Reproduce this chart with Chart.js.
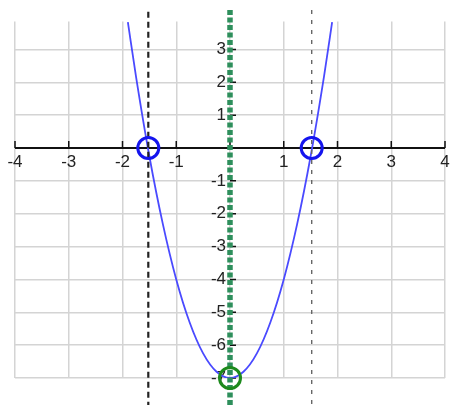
<!DOCTYPE html>
<html>
<head>
<meta charset="utf-8">
<script src="https://cdn.jsdelivr.net/npm/chart.js@4"></script>
<style>
  html, body { margin: 0; padding: 0; background: #fff; }
  #wrap { width: 452px; height: 405px; }
</style>
</head>
<body>
<div id="wrap"><canvas id="chart"></canvas></div>
<script>
// parabola
const curveX = [-1.9, -1.75, -1.5, -1.25, -1, -0.75, -0.5, -0.25, 0, 0.25, 0.5, 0.75, 1, 1.25, 1.5, 1.75, 1.9];
const curveY = [3.83, 2.19, -0.25, -2.31, -4, -5.31, -6.25, -6.81, -7, -6.81, -6.25, -5.31, -4, -2.31, -0.25, 2.19, 3.83];

// zeros and vertex
const rootX = [-1.52, 1.52];
const vertexX = 0, vertexY = -7;

// vertical guide lines run past the grid
const guideTop = 4.15, guideBottom = -7.85;

// tick labels
const xTicks = [-4, -3, -2, -1, 1, 2, 3, 4];
const yTicks = [3, 2, 1, -1, -2, -3, -4, -5, -6, -7];

const xMin = -4, xMax = 4, yMin = -7, yMax = 3.85;

// axes through the origin, drawn on top of the grid
const midAxes = {
  id: 'midAxes',
  beforeDatasetsDraw(chart) {
    const { ctx, scales: { x, y } } = chart;
    const x0 = x.getPixelForValue(0), y0 = y.getPixelForValue(0);
    ctx.save();
    ctx.strokeStyle = '#111';
    ctx.lineWidth = 2;
    ctx.beginPath();
    ctx.moveTo(x.getPixelForValue(xMin), y0);
    ctx.lineTo(x.getPixelForValue(xMax), y0);
    ctx.stroke();
    ctx.lineWidth = 1.5;
    ctx.beginPath();
    for (let v = xMin; v <= xMax; v++) {
      const px = x.getPixelForValue(v);
      ctx.moveTo(px, y0);
      ctx.lineTo(px, y0 - 7);
    }
    yTicks.forEach(v => {
      const py = y.getPixelForValue(v);
      ctx.moveTo(x0, py);
      ctx.lineTo(x0 + 6, py);
    });
    ctx.stroke();

    ctx.fillStyle = '#222';
    ctx.font = '17px "Liberation Sans", Arial, sans-serif';
    ctx.textAlign = 'center';
    ctx.textBaseline = 'top';
    xTicks.forEach(v => ctx.fillText(String(v), x.getPixelForValue(v), y0 + 6));
    ctx.textAlign = 'right';
    ctx.textBaseline = 'middle';
    yTicks.forEach(v => ctx.fillText(String(v), x0 - 4, y.getPixelForValue(v)));
    ctx.restore();
  }
};

const zeroSize = s => { if (s.isHorizontal()) s.height = 0; else s.width = 0; };

new Chart(document.getElementById('chart'), {
  type: 'scatter',
  data: {
    datasets: [
      {
        // zeros
        data: rootX.map(v => ({ x: v, y: 0 })),
        pointRadius: 10.5,
        pointBorderWidth: 3,
        pointBorderColor: '#1414ee',
        pointBackgroundColor: 'rgba(0,0,0,0)',
        showLine: false,
        clip: false,
        order: 0
      },
      {
        // vertex
        data: [{ x: vertexX, y: vertexY }],
        pointRadius: 10.5,
        pointBorderWidth: 3,
        pointBorderColor: '#1d8a1d',
        pointBackgroundColor: 'rgba(0,0,0,0)',
        showLine: false,
        clip: false,
        order: 0
      },
      {
        // axis of symmetry
        data: [{ x: vertexX, y: guideTop + 0.05 }, { x: vertexX, y: guideBottom }],
        showLine: true,
        borderColor: '#2e8f5c',
        borderWidth: 5.5,
        borderDash: [5, 2.5],
        pointRadius: 0,
        clip: false,
        order: 1
      },
      {
        data: [{ x: rootX[0], y: guideTop }, { x: rootX[0], y: guideBottom }],
        showLine: true,
        borderColor: '#222',
        borderWidth: 2.2,
        borderDash: [6, 4],
        pointRadius: 0,
        clip: false,
        order: 2
      },
      {
        data: [{ x: rootX[1], y: guideTop + 0.05 }, { x: rootX[1], y: guideBottom }],
        showLine: true,
        borderColor: '#666',
        borderWidth: 1.4,
        borderDash: [4, 6],
        pointRadius: 0,
        clip: false,
        order: 2
      },
      {
        data: curveX.map((v, i) => ({ x: v, y: curveY[i] })),
        showLine: true,
        borderColor: '#4a4aff',
        borderWidth: 1.8,
        cubicInterpolationMode: 'monotone',
        pointRadius: 0,
        order: 3
      }
    ]
  },
  options: {
    animation: false,
    responsive: true,
    maintainAspectRatio: false,
    devicePixelRatio: 1,
    layout: { autoPadding: false, padding: { left: 15, right: 7, top: 21.5, bottom: 27 } },
    plugins: { legend: { display: false }, tooltip: { enabled: false } },
    scales: {
      x: {
        type: 'linear', min: xMin, max: xMax,
        ticks: { display: false, stepSize: 1, includeBounds: false },
        grid: { color: '#d4d4d4', lineWidth: 1.5, drawTicks: false },
        border: { display: false },
        afterFit: zeroSize
      },
      y: {
        type: 'linear', min: yMin, max: yMax,
        ticks: { display: false, stepSize: 1, includeBounds: false },
        grid: { color: '#d4d4d4', lineWidth: 1.5, drawTicks: false },
        border: { display: false },
        afterFit: zeroSize
      }
    }
  },
  plugins: [midAxes]
});
</script>
</body>
</html>
